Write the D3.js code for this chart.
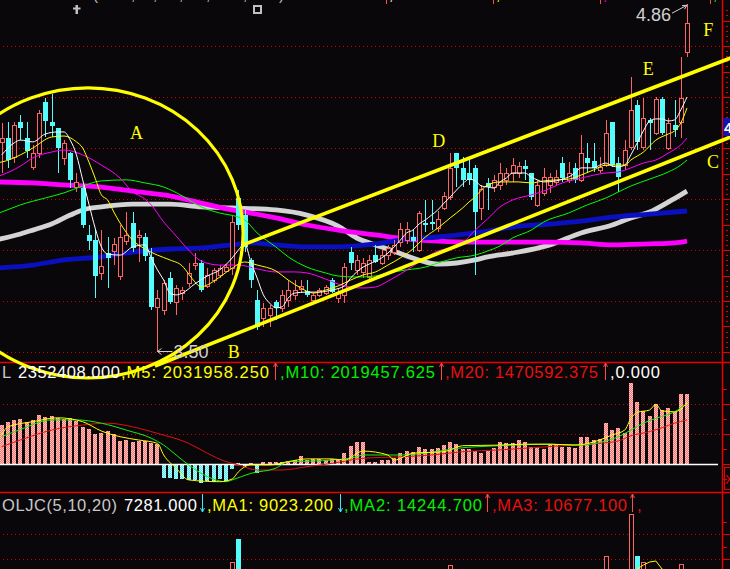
<!DOCTYPE html>
<html><head><meta charset="utf-8">
<script src="https://cdn.jsdelivr.net/npm/d3@7"></script>
<style>html,body{margin:0;padding:0;background:#0a070a;overflow:hidden}</style>
</head><body>
<svg id="c" width="730" height="569"></svg>
<script>
// ---------- DATA ----------
const cOpen  = [4.323,4.340,4.265,4.402,4.340,4.226,4.280,4.480,4.402,4.379,4.261,4.280,4.147,4.143,3.958,3.939,3.809,3.888,3.896,3.797,3.935,4.005,3.951,3.951,3.873,3.677,3.664,3.790,3.696,3.731,3.770,3.841,3.849,3.758,3.782,3.801,3.817,3.829,4.104,4.037,3.861,3.704,3.633,3.644,3.696,3.673,3.704,3.723,3.747,3.739,3.704,3.723,3.731,3.782,3.712,3.723,3.892,3.821,3.813,3.794,3.880,3.849,3.880,3.892,3.931,3.939,3.951,3.900,4.005,4.009,3.986,4.064,4.108,4.280,4.222,4.202,4.222,4.064,4.162,4.147,4.154,4.174,4.202,4.202,4.229,4.202,4.076,4.123,4.154,4.166,4.241,4.174,4.222,4.174,4.261,4.249,4.214,4.233,4.402,4.241,4.233,4.303,4.468,4.303,4.410,4.359,4.492,4.300,4.390,4.402,4.676];
const cHigh  = [4.398,4.402,4.402,4.429,4.402,4.311,4.449,4.496,4.511,4.379,4.331,4.284,4.202,4.154,3.997,3.978,3.978,3.951,3.947,3.997,4.049,4.049,3.978,3.966,3.908,3.743,3.782,3.813,3.762,3.755,3.849,3.888,3.861,3.829,3.829,3.841,3.845,4.037,4.135,4.057,3.869,3.743,3.692,3.684,3.704,3.743,3.782,3.782,3.782,3.782,3.731,3.751,3.762,3.790,3.751,3.849,3.912,3.880,3.869,3.880,3.919,3.900,3.919,3.939,4.005,4.009,3.978,4.053,4.096,4.096,4.053,4.127,4.280,4.280,4.265,4.265,4.233,4.154,4.182,4.194,4.241,4.222,4.261,4.245,4.253,4.202,4.174,4.222,4.202,4.214,4.265,4.245,4.241,4.351,4.319,4.319,4.265,4.410,4.402,4.265,4.331,4.578,4.488,4.496,4.417,4.500,4.500,4.417,4.488,4.657,4.864];
const cLow   = [4.202,4.222,4.241,4.331,4.261,4.214,4.261,4.344,4.344,4.202,4.233,4.143,4.127,3.986,3.900,3.712,3.782,3.751,3.841,3.782,3.919,3.892,3.853,3.857,3.664,3.500,3.644,3.688,3.644,3.704,3.755,3.821,3.735,3.751,3.770,3.790,3.813,3.801,3.978,3.892,3.751,3.586,3.598,3.598,3.625,3.657,3.677,3.704,3.731,3.716,3.696,3.716,3.723,3.731,3.692,3.692,3.821,3.801,3.790,3.782,3.849,3.841,3.861,3.880,3.912,3.923,3.892,3.892,3.970,3.978,3.970,4.057,4.096,4.147,4.147,4.154,3.801,4.017,4.057,4.127,4.135,4.154,4.166,4.182,4.174,4.096,4.068,4.112,4.123,4.154,4.166,4.162,4.162,4.166,4.202,4.206,4.202,4.225,4.225,4.127,4.214,4.292,4.292,4.292,4.292,4.351,4.351,4.292,4.344,4.339,4.657];
const cClose = [4.340,4.253,4.390,4.379,4.288,4.280,4.437,4.406,4.386,4.300,4.319,4.174,4.166,3.997,3.935,3.797,3.837,3.869,3.923,3.951,3.958,3.908,3.958,3.876,3.677,3.712,3.770,3.696,3.751,3.743,3.809,3.849,3.743,3.801,3.821,3.829,3.833,4.009,3.997,3.912,3.782,3.598,3.673,3.673,3.673,3.723,3.743,3.743,3.759,3.723,3.723,3.743,3.755,3.735,3.735,3.833,3.849,3.861,3.849,3.861,3.853,3.880,3.908,3.919,3.982,3.982,3.935,4.045,3.997,4.001,4.021,4.112,4.222,4.222,4.174,4.174,4.049,4.139,4.147,4.174,4.202,4.202,4.233,4.229,4.217,4.108,4.154,4.186,4.186,4.186,4.182,4.202,4.174,4.280,4.241,4.222,4.225,4.359,4.233,4.186,4.292,4.449,4.323,4.417,4.398,4.492,4.359,4.398,4.371,4.496,4.790];

// moving averages: [bar index, price]
const ma5Pts  = [[0,4.273],[2,4.320],[3,4.331],[5,4.324],[7,4.355],[9,4.363],[10,4.363],[11,4.331],[12,4.273],[13,4.175],[14,4.080],[15,3.986],[16,3.912],[17,3.884],[19,3.880],[21,3.912],[23,3.920],[24,3.869],[25,3.822],[26,3.782],[27,3.731],[28,3.724],[29,3.731],[31,3.767],[33,3.798],[35,3.822],[37,3.869],[38,3.900],[39,3.924],[40,3.853],[41,3.790],[42,3.724],[43,3.692],[44,3.673],[45,3.677],[46,3.712],[47,3.731],[49,3.735],[51,3.735],[53,3.743],[55,3.759],[56,3.790],[57,3.814],[58,3.833],[59,3.845],[61,3.869],[62,3.888],[63,3.912],[64,3.939],[65,3.967],[66,3.978],[67,4.002],[68,4.018],[69,4.037],[70,4.057],[71,4.084],[72,4.108],[73,4.135],[74,4.159],[75,4.178],[76,4.171],[77,4.151],[78,4.147],[79,4.143],[80,4.167],[81,4.182],[82,4.202],[84,4.202],[85,4.186],[86,4.175],[87,4.167],[89,4.171],[90,4.178],[91,4.186],[92,4.202],[93,4.222],[94,4.222],[95,4.222],[96,4.233],[97,4.241],[98,4.229],[99,4.226],[100,4.233],[101,4.273],[102,4.320],[103,4.367],[104,4.406],[105,4.414],[106,4.414],[107,4.406],[108,4.410],[109,4.449],[110,4.500]];
const ma10Pts = [[-1,4.241],[0,4.245],[3,4.273],[5,4.300],[8,4.343],[10,4.347],[12,4.324],[13,4.300],[14,4.245],[15,4.182],[16,4.116],[17,4.096],[18,4.049],[19,4.006],[21,3.939],[23,3.904],[25,3.880],[27,3.861],[29,3.837],[30,3.806],[31,3.775],[32,3.755],[33,3.763],[35,3.794],[37,3.829],[39,3.853],[41,3.841],[44,3.818],[46,3.782],[48,3.751],[50,3.731],[52,3.743],[54,3.759],[56,3.782],[58,3.802],[60,3.814],[62,3.841],[64,3.869],[66,3.904],[68,3.951],[70,3.986],[72,4.026],[74,4.065],[75,4.088],[76,4.108],[77,4.135],[78,4.155],[80,4.167],[83,4.167],[85,4.163],[87,4.171],[89,4.175],[91,4.178],[93,4.194],[95,4.214],[97,4.233],[99,4.233],[100,4.233],[101,4.253],[103,4.284],[105,4.331],[107,4.355],[108,4.367],[109,4.398],[110,4.457]];
const ma20Pts = [[-1,4.186],[0,4.194],[3,4.229],[5,4.261],[8,4.284],[10,4.292],[13,4.273],[16,4.233],[19,4.182],[21,4.128],[23,4.100],[24,4.077],[26,4.010],[28,3.955],[30,3.900],[32,3.857],[35,3.841],[38,3.841],[41,3.826],[44,3.814],[47,3.814],[49,3.810],[52,3.786],[55,3.759],[58,3.751],[60,3.755],[62,3.778],[64,3.806],[66,3.837],[68,3.869],[70,3.896],[72,3.908],[74,3.928],[76,3.978],[78,4.022],[80,4.069],[82,4.096],[85,4.116],[87,4.131],[90,4.163],[93,4.182],[97,4.202],[99,4.206],[101,4.222],[103,4.241],[105,4.253],[107,4.280],[109,4.312],[110,4.339]];
const ma30Pts = [[-1,4.041],[0,4.049],[3,4.077],[7,4.104],[10,4.124],[13,4.151],[16,4.171],[20,4.175],[23,4.163],[26,4.147],[29,4.112],[32,4.069],[35,4.045],[38,4.029],[39,4.018],[41,3.967],[44,3.912],[46,3.873],[49,3.833],[52,3.810],[54,3.798],[57,3.794],[60,3.798],[62,3.810],[65,3.822],[68,3.833],[70,3.849],[73,3.869],[76,3.880],[78,3.896],[80,3.916],[82,3.947],[85,3.978],[87,4.010],[91,4.045],[94,4.077],[97,4.104],[99,4.128],[101,4.151],[104,4.178],[107,4.206],[109,4.233],[110,4.253]];
const ma60Pts = [[-1,4.167],[5,4.163],[10,4.155],[16,4.147],[21,4.131],[27,4.112],[32,4.084],[37,4.057],[40,4.045],[44,4.026],[49,3.998],[54,3.978],[60,3.959],[65,3.943],[70,3.935],[76,3.931],[82,3.931],[88,3.931],[93,3.928],[98,3.920],[104,3.924],[108,3.928],[110,3.935]];
const ma120Pts = [[-1,3.939],[3,3.963],[5,3.978],[8,4.002],[11,4.037],[13,4.057],[16,4.069],[21,4.080],[27,4.080],[32,4.069],[37,4.065],[44,4.057],[49,4.037],[54,3.994],[57,3.947],[60,3.920],[62,3.904],[65,3.877],[68,3.853],[70,3.845],[73,3.849],[76,3.861],[78,3.873],[82,3.888],[88,3.920],[93,3.967],[98,3.998],[101,4.026],[104,4.049],[107,4.088],[109,4.116],[110,4.131]];
const ma250Pts = [[-1,3.829],[5,3.841],[10,3.861],[16,3.873],[21,3.892],[27,3.904],[32,3.908],[37,3.920],[40,3.928],[44,3.920],[49,3.912],[54,3.912],[60,3.924],[65,3.943],[70,3.951],[76,3.967],[78,3.974],[82,3.990],[88,4.002],[93,4.013],[98,4.029],[104,4.041],[108,4.049],[110,4.053]];

// volume indicator (millions)
const volVals = [1.30,1.41,1.47,1.49,1.41,1.47,1.63,1.58,1.60,1.52,
 1.49,1.52,1.43,1.24,1.17,1.00,1.04,1.10,1.00,0.77,
 0.80,0.72,0.77,0.77,0.69,0.66,-0.46,-0.48,-0.50,-0.50,
 -0.53,-0.53,-0.64,-0.57,-0.61,-0.50,-0.57,-0.17,0.05,-0.08,
 0.05,-0.30,0.08,0.08,0.08,0.08,0.10,0.12,0.27,0.15,
 0.16,0.16,0.15,0.16,0.15,0.36,0.61,0.72,0.74,0.08,
 0.08,0.12,0.12,0.19,0.36,0.43,0.39,0.58,0.49,0.49,
 0.52,0.63,0.72,0.66,0.50,0.50,0.43,0.38,0.43,0.52,
 0.72,0.69,0.69,0.80,0.74,0.58,0.58,0.49,0.66,0.66,
 0.58,0.58,0.52,0.89,0.89,0.80,0.83,1.36,1.13,1.21,
 1.03,2.69,2.06,1.77,1.60,1.99,1.80,1.86,1.74,2.35,2.35];
const volM5  = [[0,0.97],[1,1.24],[5,1.41],[9,1.54],[13,1.41],[16,1.10],[19,0.91],[22,0.80],[25,0.69],[26,0.30],[28,-0.14],[30,-0.53],[35,-0.59],[37,-0.50],[38,-0.26],[40,-0.03],[43,-0.03],[46,0.08],[49,0.17],[53,0.17],[55,0.13],[58,0.43],[62,0.30],[63,0.13],[66,0.36],[71,0.41],[74,0.61],[80,0.63],[84,0.66],[88,0.66],[92,0.63],[96,0.80],[98,0.97],[100,1.13],[101,1.52],[102,1.72],[104,1.80],[105,1.99],[106,1.77],[108,1.74],[110,2.03]];
const volM10 = [[0,0.91],[3,1.15],[8,1.47],[12,1.47],[16,1.36],[20,1.13],[24,0.86],[26,0.63],[28,0.30],[30,-0.03],[33,-0.42],[36,-0.59],[37,-0.53],[40,-0.31],[44,-0.14],[46,0.08],[50,0.10],[53,0.13],[57,0.24],[58,0.30],[64,0.30],[69,0.39],[73,0.52],[80,0.61],[88,0.66],[93,0.63],[96,0.72],[99,0.91],[101,1.13],[103,1.36],[105,1.52],[108,1.74],[110,2.02]];
const volM20 = [[0,0.58],[3,0.80],[8,1.13],[13,1.30],[17,1.36],[21,1.24],[25,1.02],[30,0.69],[33,0.36],[36,0.08],[38,-0.03],[41,-0.20],[45,-0.20],[49,-0.09],[53,0.02],[58,0.19],[64,0.24],[69,0.30],[74,0.41],[80,0.47],[85,0.54],[90,0.61],[96,0.69],[99,0.77],[101,0.94],[104,1.08],[106,1.21],[108,1.36],[110,1.47]];

// OLJC panel (only the bars that reach into view)
const oljcIdx = [37,38,72,97,101,102,103,109];
const oljcVal = [18800,28000,17600,21200,38000,21200,18800,18000];
const oljcMA1 = [[102,16000],[103,17600],[104,18800],[105,19200],[106,16000],[108,12000],[110,9023]];

// drawn annotations (bar index, price)
const circleA = {cx:13.85, cy:3.967, rBars:24.9, rPrice:0.569};
const lineUpper = [[38.7,3.920],[117,4.653]];
const lineLower = [[24.6,3.445],[117,4.343]];
const letters = [["A",20.6,4.335],["B",36.3,3.476],["C",113.2,4.221],["D",69.1,4.304],["E",102.9,4.586],["F",112.6,4.739]];
const hiLabel = {i:110, p:4.86, t:"4.86"};
const loLabel = {i:25, p:3.50, t:"3.50"};

const priceTicks = [3.5,3.7,3.9,4.1,4.3,4.5,4.7];
const volTicks = [1,2];
const oljcTicks = [20000,30000];

const volTitle = [["L",2,null,"#c8c8c8"],["2352408.000",18,102,"#ffffff"],[",M5: 2031958.250",121,148,"#ffff00"],[",M10: 2019457.625",280,155,"#00f000"],[",M20: 1470592.375",445,153,"#e81010"],[",0.000",610,50,"#ffffff"]];
const volArrows = [[275,"up","#ff4a4a"],[441,"up","#ff4a4a"],[605,"up","#ff4a4a"]];
const oljcTitle = [["OLJC(5,10,20)",2,115,"#c8c8c8"],["7281.000",124,73,"#ffffff"],[",MA1: 9023.200",207,126,"#ffff00"],[",MA2: 14244.700",344,138,"#00f000"],[",MA3: 10677.100",492,135,"#e81010"],[",",637,null,"#e81010"]];
const oljcArrows = [[202,"down","#40e8ff"],[340,"down","#40e8ff"],[487,"up","#ff4a4a"],[632,"up","#ff4a4a"]];

// ---------- DRAW ----------
const W=730,H=569,BG="#0a070a",RED="#ff6464",CYAN="#54fcfc",GRIDRED="#d00000",AXRED="#e80000";
const svg=d3.select("#c");
svg.append("rect").attr("width",W).attr("height",H).attr("fill",BG);
const defs=svg.append("defs");
function pat(id,c1,c2){const p=defs.append("pattern").attr("id",id).attr("width",2).attr("height",2).attr("patternUnits","userSpaceOnUse");
 p.append("rect").attr("width",2).attr("height",2).attr("fill",c1);
 p.append("rect").attr("width",1).attr("height",1).attr("fill",c2);
 p.append("rect").attr("x",1).attr("y",1).attr("width",1).attr("height",1).attr("fill",c2);}
pat("pr","#ff7070","#ffc8c0");pat("pc","#50e8f0","#c0ffff");

const n=cOpen.length;
const x=d3.scaleLinear().domain([0,110]).range([1.7,687]);
const y=d3.scaleLinear().domain([3.5,4.7]).range([352,46]);
const yv=d3.scaleLinear().domain([0,2]).range([464,404]);
const yo=d3.scaleLinear().domain([0,40000]).range([609,509]);
const px=i=>Math.round(x(i))+0.5;

// grids
const grid=svg.append("g").attr("stroke",GRIDRED).attr("stroke-dasharray","1 3");
priceTicks.forEach(p=>grid.append("line").attr("x1",3).attr("x2",720).attr("y1",Math.round(y(p))+0.5).attr("y2",Math.round(y(p))+0.5));
volTicks.forEach(v=>grid.append("line").attr("x1",3).attr("x2",720).attr("y1",Math.round(yv(v))+0.5).attr("y2",Math.round(yv(v))+0.5));
oljcTicks.forEach(v=>grid.append("line").attr("x1",3).attr("x2",720).attr("y1",Math.round(yo(v))+0.5).attr("y2",Math.round(yo(v))+0.5));

// separators and right axis
svg.append("line").attr("x1",0).attr("x2",W).attr("y1",362.5).attr("y2",362.5).attr("stroke",AXRED).attr("stroke-width",1.5);
svg.append("line").attr("x1",0).attr("x2",W).attr("y1",492.5).attr("y2",492.5).attr("stroke",AXRED).attr("stroke-width",1.5);
svg.append("line").attr("x1",722.5).attr("x2",722.5).attr("y1",0).attr("y2",H).attr("stroke",AXRED).attr("stroke-width",1.5);
const ax=svg.append("g").attr("stroke",AXRED);
d3.range(3.5,4.85,0.1).forEach(p=>{const yy=Math.round(y(p))+0.5;ax.append("line").attr("x1",722).attr("x2",730).attr("y1",yy).attr("y2",yy);});
d3.range(3.5,4.85,0.02).forEach(p=>{const yy=Math.round(y(p))+0.5;ax.append("line").attr("x1",726).attr("x2",728).attr("y1",yy).attr("y2",yy);});
[-0.5,0,0.5,1,1.5,2,2.5].forEach(v=>{const yy=Math.round(yv(v))+0.5;ax.append("line").attr("x1",722).attr("x2",v%1===0?730:727).attr("y1",yy).attr("y2",yy);});
[15000,20000,25000,30000,35000].forEach(v=>{const yy=Math.round(yo(v))+0.5;ax.append("line").attr("x1",722).attr("x2",v%10000===0?730:727).attr("y1",yy).attr("y2",yy);});

const line=d3.line().x(d=>x(d[0])).y(d=>y(d[1])).curve(d3.curveMonotoneX);
// long MAs (thick)
[[ma120Pts,"#d4d4d4"],[ma60Pts,"#ff00ff"],[ma250Pts,"#0a10c0"]].forEach(([pts,c])=>
 svg.append("path").attr("d",line(pts)).attr("fill","none").attr("stroke",c).attr("stroke-width",4.8));

// candles
const gC=svg.append("g").attr("shape-rendering","crispEdges");
d3.range(n).forEach(i=>{
 const o=cOpen[i],h=cHigh[i],l=cLow[i],c=cClose[i],up=c>=o,cx=px(i),col=up?RED:CYAN;
 gC.append("line").attr("x1",cx).attr("x2",cx).attr("y1",y(h)).attr("y2",y(l)).attr("stroke",col);
 const t=y(Math.max(o,c)),b=y(Math.min(o,c));
 if(up) gC.append("rect").attr("x",cx-2).attr("y",Math.round(t)+0.5).attr("width",4).attr("height",Math.max(Math.round(b-t),1)).attr("fill",BG).attr("stroke",col);
 else gC.append("rect").attr("x",cx-2.5).attr("y",Math.round(t)).attr("width",5).attr("height",Math.max(Math.round(b-t),1.5)).attr("fill",col);
});

// short MAs (thin)
[[ma30Pts,"#00ff00"],[ma20Pts,"#ff00ff"],[ma10Pts,"#ffff00"],[ma5Pts,"#ffffff"]].forEach(([pts,c])=>
 svg.append("path").attr("d",line(pts)).attr("fill","none").attr("stroke",c).attr("stroke-width",1));

// volume bars
const gV=svg.append("g").attr("shape-rendering","crispEdges");
volVals.forEach((v,i)=>{const t=Math.min(yv(v),yv(0)),h=Math.abs(yv(v)-yv(0));
 gV.append("rect").attr("x",Math.round(x(i))-2).attr("y",Math.round(t)).attr("width",4).attr("height",Math.max(Math.round(h),1)).attr("fill",v>=0?"url(#pr)":"url(#pc)");});
svg.append("line").attr("x1",0).attr("x2",718).attr("y1",464.5).attr("y2",464.5).attr("stroke","#ffffff").attr("stroke-width",1.5);
const vline=d3.line().x(d=>x(d[0])).y(d=>yv(d[1])).curve(d3.curveMonotoneX);
[[volM20,"#e01010"],[volM10,"#10f010"],[volM5,"#ffff00"]].forEach(([pts,c])=>
 svg.append("path").attr("d",vline(pts)).attr("fill","none").attr("stroke",c).attr("stroke-width",1));

// OLJC panel
const gO=svg.append("g").attr("shape-rendering","crispEdges");
oljcIdx.forEach((i,k)=>{const up=cClose[i]>=cOpen[i],t=yo(oljcVal[k]),cx=px(i);
 if(up) gO.append("rect").attr("x",cx-2).attr("y",Math.round(t)+0.5).attr("width",4).attr("height",H-t+5).attr("fill",BG).attr("stroke",RED);
 else gO.append("rect").attr("x",cx-2.5).attr("y",Math.round(t)).attr("width",5).attr("height",H-t+5).attr("fill",CYAN);});
svg.append("path").attr("d",d3.line().x(d=>x(d[0])).y(d=>yo(d[1]))(oljcMA1)).attr("fill","none").attr("stroke","#ffff00");

// annotations
const Y="#ffff00";
const ecx=x(circleA.cx),ecy=y(circleA.cy),erx=x(circleA.cx+circleA.rBars)-ecx,ery=ecy-y(circleA.cy+circleA.rPrice);
svg.append("ellipse").attr("cx",ecx).attr("cy",ecy).attr("rx",erx).attr("ry",ery).attr("fill","none").attr("stroke",Y).attr("stroke-width",3.2);
[lineUpper,lineLower].forEach(l=>svg.append("line").attr("x1",x(l[0][0])).attr("y1",y(l[0][1])).attr("x2",x(l[1][0])).attr("y2",y(l[1][1])).attr("stroke",Y).attr("stroke-width",3.6));
letters.forEach(([t,i,p])=>svg.append("text").attr("x",x(i)).attr("y",y(p)).text(t).attr("fill",Y).attr("font-family","Liberation Serif, serif").attr("font-size",18));

// hi / lo labels
const LG="#d0d0d0";
const hx=x(hiLabel.i),hy=y(hiLabel.p);
svg.append("path").attr("d",`M${hx-15},${hy+8}L${hx},${hy}M${hx},${hy}l-5,0.5M${hx},${hy}l-2.5,4`).attr("stroke",LG).attr("fill","none");
svg.append("text").attr("x",hx-51).attr("y",hy+15.5).text(hiLabel.t).attr("fill",LG).attr("font-family","Liberation Sans, Arial").attr("font-size",18);
const lx=x(loLabel.i),ly=Math.round(y(loLabel.p))-0.5;
svg.append("path").attr("d",`M${lx},${ly}H${lx+15}M${lx},${ly}l4,-3M${lx},${ly}l4,3`).attr("stroke",LG).attr("fill","none");
svg.append("text").attr("x",lx+16).attr("y",ly+6).text(loLabel.t).attr("fill",LG).attr("font-family","Liberation Sans, Arial").attr("font-size",18);

// titles
function drawTitle(items,arrows,base,top,bot){
 items.forEach(([t,xx,w,c])=>{const el=svg.append("text").attr("x",xx).attr("y",base).text(t).attr("fill",c).attr("font-family","Liberation Sans, Arial").attr("font-size",16.5);
  if(w) el.attr("textLength",w).attr("lengthAdjust","spacing");});
 arrows.forEach(([xx,dir,c])=>{const a=xx+0.5;
  const d=dir==="up"?`M${a},${bot}V${top}M${a-2},${top+4}L${a},${top}L${a+2},${top+4}`:`M${a},${top}V${bot}M${a-2},${bot-4}L${a},${bot}L${a+2},${bot-4}`;
  svg.append("path").attr("d",d).attr("stroke",c).attr("fill","none");});
}
drawTitle(volTitle,volArrows,378,363,380);
drawTitle(oljcTitle,oljcArrows,510.5,494,512);

// right axis widgets
svg.append("rect").attr("x",723).attr("y",118).attr("width",8).attr("height",18).attr("fill","#1414a8");
svg.append("text").attr("x",724).attr("y",133).text("4.42").attr("fill","#ffffff").attr("font-family","Liberation Sans, Arial").attr("font-size",15).attr("font-weight","bold");
svg.append("rect").attr("x",724.5).attr("y",467.5).attr("width",8).attr("height",22).attr("fill","none").attr("stroke",AXRED);
svg.append("text").attr("x",725).attr("y",484).text("X").attr("fill",AXRED).attr("font-family","Liberation Sans, Arial").attr("font-size",13);

// top strip icons / cut-off header
svg.append("path").attr("d","M75.5,5h2.5v9h-2.5zM73,7.5h7.5v2h-7.5z").attr("fill","#c0c0c0");
svg.append("rect").attr("x",254).attr("y",6).attr("width",7).attr("height",7).attr("fill","none").attr("stroke","#c0c0c0").attr("stroke-width",2);
[["(",93],[",",131],[",",153],[",",179],[",",206],[",",243],[")",279]].forEach(([t,xx])=>
 svg.append("text").attr("x",xx).attr("y",0).text(t).attr("fill","#c0c0c0").attr("font-family","Liberation Sans, Arial").attr("font-size",15));
[[386,"#ffffff"],[493,"#ffff00"],[600,"#ff00ff"],[710,"#00ff00"]].forEach(([xx,c])=>{
 svg.append("line").attr("x1",xx+0.5).attr("x2",xx+0.5).attr("y1",0).attr("y2",4).attr("stroke","#ff4a4a");
 svg.append("text").attr("x",xx+3).attr("y",0).text(",").attr("fill",c).attr("font-family","Liberation Sans, Arial").attr("font-size",15);});
</script>
</body></html>
